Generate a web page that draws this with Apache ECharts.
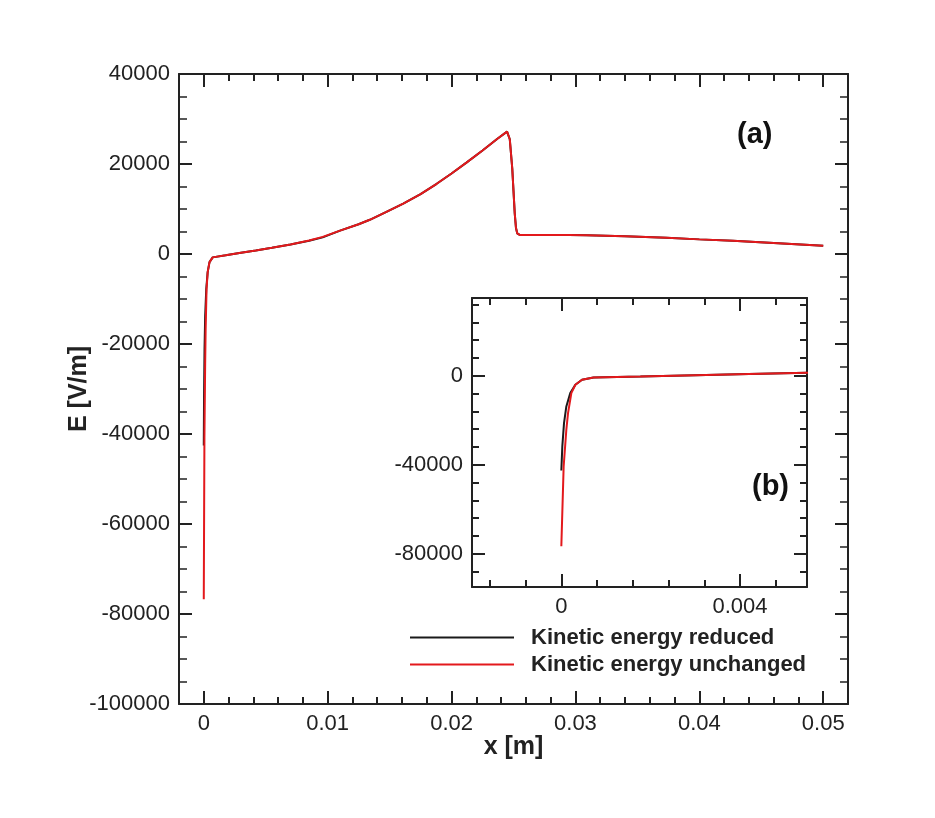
<!DOCTYPE html>
<html>
<head>
<meta charset="utf-8">
<script src="https://cdn.jsdelivr.net/npm/echarts@6/dist/echarts.min.js"></script>
<style>
html,body{margin:0;padding:0;background:#fff;}
#chart{width:935px;height:818px;}
</style>
</head>
<body>
<div id="chart"></div>
<script>
// ---- data ----
var xUnchanged = [0, 0.000052, 0.000112, 0.00015, 0.000224, 0.000314, 0.000463, 0.00072, 0.00177, 0.003, 0.0042, 0.0055, 0.007, 0.0085, 0.0096, 0.011, 0.0125, 0.0134, 0.0147, 0.0161, 0.0175, 0.0188, 0.02, 0.0212, 0.0225, 0.0237, 0.02448, 0.02458, 0.0247, 0.0249, 0.025, 0.0251, 0.0252, 0.0253, 0.0255, 0.027, 0.0295, 0.0309, 0.034, 0.03735, 0.04, 0.0427, 0.046, 0.05];
var eUnchanged = [-76700, -40750, -24270, -16770, -7790, -4040, -1800, -750, -300, 300, 800, 1400, 2100, 3000, 3800, 5200, 6600, 7600, 9300, 11200, 13300, 15600, 17900, 20300, 23000, 25600, 27200, 27100, 25500, 19000, 14000, 9000, 5800, 4600, 4250, 4250, 4200, 4150, 3950, 3600, 3250, 2950, 2450, 1850];
var xReduced = [0, 0.000022, 0.00006, 0.000112, 0.0002, 0.000314, 0.000463, 0.00072, 0.00177, 0.003, 0.0042, 0.0055, 0.007, 0.0085, 0.0096, 0.011, 0.0125, 0.0134, 0.0147, 0.0161, 0.0175, 0.0188, 0.02, 0.0212, 0.0225, 0.0237, 0.02448, 0.02458, 0.0247, 0.0249, 0.025, 0.0251, 0.0252, 0.0253, 0.0255, 0.027, 0.0295, 0.0309, 0.034, 0.03735, 0.04, 0.0427, 0.046, 0.05];
var eReduced = [-42560, -31760, -21270, -13780, -7790, -4040, -1800, -750, -300, 300, 800, 1400, 2100, 2950, 3700, 5200, 6600, 7600, 9300, 11200, 13300, 15600, 17900, 20300, 23000, 25600, 27200, 27100, 25500, 19000, 14000, 9000, 5800, 4600, 4250, 4250, 4200, 4150, 3950, 3600, 3250, 2950, 2450, 1850];

var seriesNames = ['Kinetic energy reduced', 'Kinetic energy unchanged'];
var mainXTicks = [0, 0.01, 0.02, 0.03, 0.04, 0.05];
var insetXTicks = [0, 0.004];
var insetXMinor = [-0.0016, -0.0008, 0.0008, 0.0016, 0.0024, 0.0032, 0.0048];
var insetYTicks = [-80000, -40000, 0];
var insetYMinor = [-88000, -72000, -64000, -56000, -48000, -32000, -24000, -16000, -8000, 8000, 16000, 24000, 32000];

function pairs(xs, ys) { return xs.map(function (x, i) { return [x, ys[i]]; }); }

var FONT = '"Liberation Sans", Arial, sans-serif';
var INK = '#222';
var TICKFS = 22;
var lineAx = { show: true, onZero: false, lineStyle: { color: INK, width: 2 } };
var noLine = { show: false, onZero: false };
function plain(v) { return String(+(+v).toFixed(5)); }

function ax(grid, pos, min, max, ticks, len, labels, line) {
  return {
    type: 'value', gridIndex: grid, position: pos, min: min, max: max,
    axisLine: line ? lineAx : noLine,
    splitLine: { show: false },
    axisTick: { show: true, inside: true, length: len, customValues: ticks, lineStyle: { color: INK, width: 2 } },
    axisLabel: labels ? { show: true, customValues: ticks, fontSize: TICKFS, fontFamily: FONT, color: INK, margin: 9,
      formatter: plain } : { show: false }
  };
}

var mainMinorX = [];
for (var k = -1; k <= 26; k++) mainMinorX.push(+(k * 0.002).toFixed(4));

var xAxes = [
  // main grid
  Object.assign(ax(0, 'bottom', -0.002, 0.052, mainXTicks, 13, true, true), {
    name: 'x [m]', nameLocation: 'middle', nameGap: 31, nameMoveOverlap: false,
    nameTextStyle: { fontSize: 25, fontWeight: 'bold', fontFamily: FONT, color: INK }
  }),
  ax(0, 'bottom', -0.002, 0.052, mainMinorX, 7, false, false),
  ax(0, 'top', -0.002, 0.052, mainXTicks, 13, false, true),
  ax(0, 'top', -0.002, 0.052, mainMinorX, 7, false, false),
  // inset grid
  ax(1, 'bottom', -0.002, 0.0055, insetXTicks, 13, true, true),
  ax(1, 'bottom', -0.002, 0.0055, insetXMinor, 7, false, false),
  ax(1, 'top', -0.002, 0.0055, insetXTicks, 13, false, true),
  ax(1, 'top', -0.002, 0.0055, insetXMinor, 7, false, false)
];

var mainYLeft = {
  type: 'value', gridIndex: 0, position: 'left', min: -100000, max: 40000, interval: 20000,
  axisLine: lineAx, splitLine: { show: false },
  axisTick: { show: true, inside: true, length: 13, lineStyle: { color: INK, width: 2 } },
  minorTick: { show: true, splitNumber: 4, length: 8, lineStyle: { color: INK, width: 1.5 } },
  axisLabel: { show: true, fontSize: TICKFS, fontFamily: FONT, color: INK, margin: 9, formatter: plain },
  name: 'E [V/m]', nameLocation: 'middle', nameGap: 87, nameRotate: 90, nameMoveOverlap: false,
  nameTextStyle: { fontSize: 25, fontWeight: 'bold', fontFamily: FONT, color: INK }
};
var mainYRight = {
  type: 'value', gridIndex: 0, position: 'right', min: -100000, max: 40000, interval: 20000,
  axisLine: lineAx, splitLine: { show: false },
  axisTick: { show: true, inside: true, length: 13, lineStyle: { color: INK, width: 2 } },
  minorTick: { show: true, splitNumber: 4, length: 8, lineStyle: { color: INK, width: 1.5 } },
  axisLabel: { show: false }
};

var yAxes = [
  mainYLeft, mainYRight,
  ax(1, 'left', -95000, 35000, insetYTicks, 13, true, true),
  ax(1, 'left', -95000, 35000, insetYMinor, 7, false, false),
  ax(1, 'right', -95000, 35000, insetYTicks, 13, false, true),
  ax(1, 'right', -95000, 35000, insetYMinor, 7, false, false)
];

function lineSeries(name, data, color, xi, yi) {
  return {
    type: 'line', name: name, data: data, xAxisIndex: xi, yAxisIndex: yi,
    showSymbol: false, symbol: 'none', smooth: false, clip: true,
    lineStyle: { color: color, width: 2 }, itemStyle: { color: color }, silent: true
  };
}

var chart = echarts.init(document.getElementById('chart'), null, { renderer: 'canvas' });
chart.setOption({
  backgroundColor: '#fff',
  animation: false,
  grid: [
    { left: 179, top: 74, width: 669, height: 630, show: false },
    { left: 472, top: 298, width: 335, height: 289, show: true, backgroundColor: '#fff', borderWidth: 0 }
  ],
  xAxis: xAxes,
  yAxis: yAxes,
  legend: {
    orient: 'vertical', left: 405, top: 620,
    itemWidth: 104, itemHeight: 2, itemGap: 2,
    icon: 'rect',
    data: seriesNames,
    textStyle: { fontSize: 22, fontWeight: 'bold', fontFamily: FONT, color: INK, padding: [0, 0, 0, 12], lineHeight: 25 },
    selectedMode: false
  },
  graphic: [
    { type: 'text', left: 737, top: 120, style: { text: '(a)', font: 'bold 29px "Liberation Sans", Arial, sans-serif', fill: '#111' } },
    { type: 'text', left: 752, top: 472, style: { text: '(b)', font: 'bold 29px "Liberation Sans", Arial, sans-serif', fill: '#111' } }
  ],
  series: [
    lineSeries(seriesNames[0], pairs(xReduced, eReduced), '#1a1a1a', 0, 0),
    lineSeries(seriesNames[1], pairs(xUnchanged, eUnchanged), '#e3191c', 0, 0),
    lineSeries(seriesNames[0], pairs(xReduced, eReduced), '#1a1a1a', 4, 2),
    lineSeries(seriesNames[1], pairs(xUnchanged, eUnchanged), '#e3191c', 4, 2)
  ]
});
</script>
</body>
</html>
